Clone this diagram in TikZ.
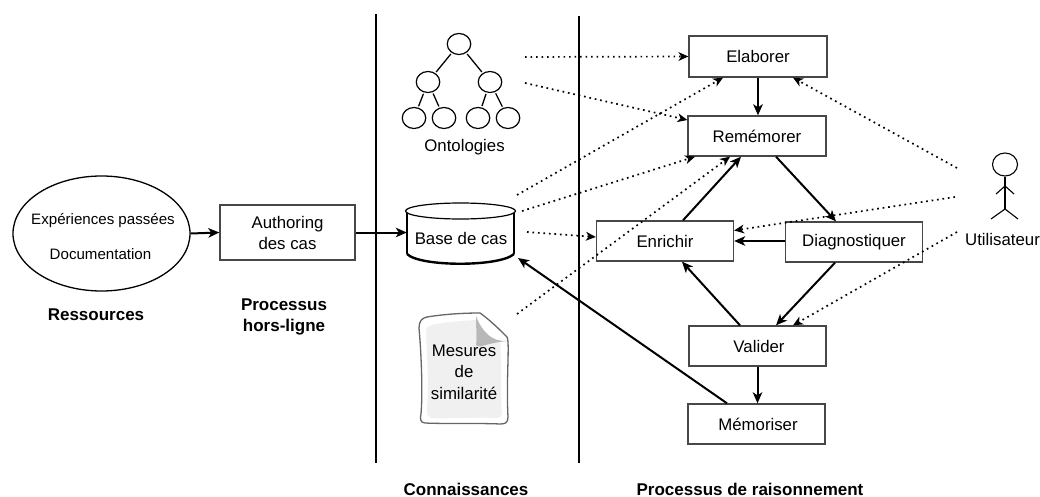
\documentclass[tikz,border=0pt]{standalone}
\usepackage{fontspec}
\setmainfont{Liberation Sans}
\usetikzlibrary{arrows.meta,shapes.geometric}
\tikzset{
  x=1pt,y=-1pt,
  boxn/.style={draw=black!72,line width=1.35pt,minimum width=137pt,minimum height=40pt,inner sep=0pt,font=\fontsize{16.8}{21}\selectfont,align=center},
  treen/.style={draw=black,line width=1.2pt,ellipse,minimum width=23.5pt,minimum height=21pt,inner sep=0pt,outer sep=2pt},
  solidar/.style={line width=2pt,-{Stealth[length=11pt,width=9.5pt,inset=3pt]}},
  dotar/.style={line width=1.7pt,dash pattern=on 1.7pt off 3.8pt,-{Stealth[length=10pt,width=9pt,inset=3pt,line width=0pt]}},
  treee/.style={line width=1.3pt},
  txt/.style={inner sep=0pt,font=\fontsize{16.8}{21.5}\selectfont,align=center},
  smalltxt/.style={inner sep=0pt,font=\fontsize{15.1}{18}\selectfont,align=center},
  boldt/.style={inner sep=0pt,font=\fontsize{17}{21}\selectfont\bfseries,align=center},
  sep/.style={line width=1.9pt},
  stick/.style={line width=1.1pt},
}
\begin{document}
\begin{tikzpicture}
\useasboundingbox (0,0) rectangle (1040,497);
% separators
\coordinate (s1a) at (376,14); \coordinate (s1b) at (376,463);
\coordinate (s2a) at (579,16); \coordinate (s2b) at (579,463);
\draw[sep] (s1a) -- (s1b);
\draw[sep] (s2a) -- (s2b);
% resources
\node[draw=black,line width=1.3pt,ellipse,minimum width=177pt,minimum height=115pt,inner sep=0pt] (res) at (101.5,233.5) {};
\node[smalltxt] (res1) at (103,221) {Expériences passées};
\node[smalltxt] (res2) at (100.5,254) {Documentation};
\node[boxn,minimum width=135pt,minimum height=55pt] (auth) at (287.5,232.5) {Authoring\\des cas};
% process boxes
\node[boxn,minimum width=138pt,minimum height=41pt] (elab) at (758,56.5) {Elaborer};
\node[boxn,minimum width=138pt,minimum height=40pt] (rem) at (757,136) {Remémorer};
\node[boxn,minimum height=40pt] (enr) at (665,241) {Enrichir};
\node[boxn,minimum height=40pt] (diag) at (854,242) {Diagnostiquer};
\node[boxn,minimum height=40pt] (val) at (757.5,346) {\hspace*{3pt}Valider};
\node[boxn,minimum height=40pt] (mem) at (756.5,424) {\hspace*{3pt}Mémoriser};
% tree
\node[treen] (t0) at (459,44) {};
\node[treen] (t1) at (428,82) {};
\node[treen] (t2) at (490,82) {};
\node[treen] (t3) at (414,118) {};
\node[treen] (t4) at (444,118) {};
\node[treen] (t5) at (478,118) {};
\node[treen] (t6) at (508,118) {};
\draw[treee] (t0)--(t1); \draw[treee] (t0)--(t2);
\draw[treee] (t1)--(t3); \draw[treee] (t1)--(t4);
\draw[treee] (t2)--(t5); \draw[treee] (t2)--(t6);
\node[txt] (onto) at (464.5,147) {Ontologies};
% cylinder
\draw[line width=1.4pt] (407,211) -- (407,254);
\draw[line width=1.4pt] (514,211) -- (514,254);
\draw[line width=2.4pt] (407,254) .. controls (420,267) and (500,267) .. (514,254);
\draw[line width=1.2pt,fill=white] (460.5,211) ellipse [x radius=55,y radius=8];
\node[txt,minimum width=108pt,minimum height=50pt] (base) at (461,238) {Base de cas};
% document
\draw[draw=black!60,line width=1.3pt,fill=white] (427,317) .. controls (445,314) and (465,313) .. (480,313) .. controls (490,320) and (500,330) .. (507,337) .. controls (510,342) and (506,380) .. (508,417) .. controls (508,423) and (505,424) .. (500,424) .. controls (480,423) and (445,424) .. (425,423) .. controls (420,423) and (420,418) .. (421,414) .. controls (423,390) and (421,350) .. (419,328) .. controls (419,321) and (422,318) .. (427,317) -- cycle;
\fill[black!6] (432,325) .. controls (445,322) and (460,321) .. (476,320) -- (476,345) -- (500,342) .. controls (502,370) and (500,395) .. (502,412) .. controls (502,417) and (500,418) .. (495,418) .. controls (475,417) and (445,419) .. (432,418) .. controls (427,417) and (427,413) .. (427,408) .. controls (429,385) and (427,355) .. (426,332) .. controls (426,328) and (428,326) .. (432,325) -- cycle;
\fill[black!28] (476,316) .. controls (476,328) and (477,338) .. (476,345) .. controls (479,349) and (482,344) .. (507,341) .. controls (492,342) and (482,332) .. (476,316) -- cycle;
\node[txt] (docl) at (464,372) {Mesures\\de\\similarité};
% actor
\node[draw=black,line width=1.1pt,ellipse,minimum width=25pt,minimum height=23pt,inner sep=0pt] (head) at (1005,164.5) {};
\coordinate (hip) at (1005,209);
\coordinate (neck) at (1005,186);
\coordinate (al) at (996,194); \coordinate (ar) at (1014,194);
\coordinate (ll) at (991,219); \coordinate (lr) at (1018,219);
\draw[stick] (head) -- (hip);
\draw[stick] (al) -- (neck) -- (ar);
\draw[stick] (ll) -- (hip) -- (lr);
\node[txt] (user) at (1002.5,239) {Utilisateur};
% bold labels
\node[boldt] (l1) at (96,315) {Ressources};
\node[boldt] (l2) at (284,316.5) {Processus\\hors-ligne};
\node[boldt,anchor=base] (l3) at (466,495.5) {Connaissances};
\node[boldt,anchor=base] (l4) at (750,495.5) {Processus de raisonnement};
% solid connectors
\draw[solidar] (res.east) -- (auth.west);
\draw[solidar] (auth.east) -- (auth.east -| base.west);
\draw[solidar] (elab.south) -- (rem.north -| elab.south);
\draw[solidar] (rem.south -| 776,0) -- (diag.north -| 836,0);
\draw[solidar] (enr.north -| 683,0) -- (rem.south -| 741,0);
\draw[solidar] (diag.west |- enr.east) -- (enr.east);
\draw[solidar] (diag.south -| 835,0) -- (val.north -| 776,0);
\draw[solidar] (val.north -| 740,0) -- (enr.south -| 682,0);
\draw[solidar] (val.south) -- (mem.north -| val.south);
\coordinate (retB) at (518,258);
\draw[solidar] (mem.north -| 727,0) -- (retB);
% dotted connectors
\coordinate (d1) at (525,57); \coordinate (d2) at (525,83); \coordinate (d3) at (517,195);
\coordinate (d4) at (522,211); \coordinate (d5) at (527,232); \coordinate (d6) at (517,314);
\coordinate (d7) at (957,168); \coordinate (d8) at (955,197); \coordinate (d9) at (957,232);
\draw[dotar] (d1) -- (elab.west);
\draw[dotar] (d2) -- (rem.west |- 0,120);
\draw[dotar] (d3) -- (elab.south -| 723,0);
\draw[dotar] (d4) -- (rem.south -| 695,0);
\draw[dotar] (d5) -- (enr.west |- 0,237);
\draw[dotar] (d6) -- (rem.south -| 730,0);
\draw[dotar] (d7) -- (elab.south -| 793,0);
\draw[dotar] (d8) -- (enr.east |- 0,230.5);
\draw[dotar] (d9) -- (val.north -| 793,0);
\end{tikzpicture}
\end{document}
